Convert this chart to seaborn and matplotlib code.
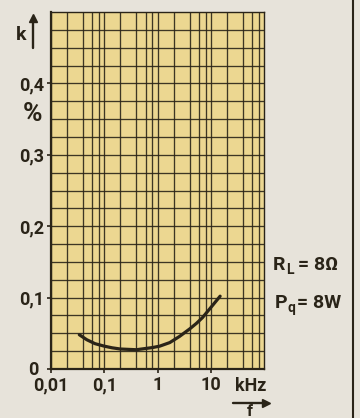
import matplotlib
matplotlib.use("Agg")
import matplotlib.pyplot as plt
from matplotlib.lines import Line2D
from matplotlib.ticker import FixedLocator, NullFormatter
from matplotlib.transforms import ScaledTranslation
import numpy as np
import pandas as pd
import seaborn as sns

# Distortion factor k (%) versus frequency f (kHz)
freq_khz = [0.034, 0.047, 0.067, 0.1, 0.14, 0.2, 0.4, 0.8, 1.1, 1.7, 2.6,
            4.0, 5.4, 7.0, 10.0, 15.0]
k_percent = [0.048, 0.041, 0.0355, 0.032, 0.0297, 0.028, 0.027, 0.030, 0.032,
             0.037, 0.0457, 0.056, 0.064, 0.072, 0.086, 0.102]

x_major = [0.01, 0.1, 1, 10]
x_labels = ["0,01", "0,1", "1", "10"]
y_major = [0, 0.1, 0.2, 0.3, 0.4]
y_labels = ["0", "0,1", "0,2", "0,3", "0,4"]

sns.set_theme(style="ticks")
plt.rcParams["font.family"] = ["Roboto", "DejaVu Sans"]
plt.rcParams["font.weight"] = "bold"

PAPER = "#e7e3da"
YELLOW = "#ecd791"
INK = "#2a2418"

W, H = 360, 418
fig = plt.figure(figsize=(W / 100, H / 100), dpi=100, facecolor=PAPER)
ax = fig.add_axes([51 / W, 1 - 369 / H, (264 - 51) / W, (369 - 12) / H])
ax.set_facecolor(YELLOW)

df = pd.DataFrame({"f": freq_khz, "k": k_percent})
sns.lineplot(data=df, x="f", y="k", ax=ax, color=INK, linewidth=2.3, zorder=5)

ax.set_xscale("log")
ax.set_xlim(0.01, 100)
ax.set_ylim(0, 0.5)

# graph-paper grid: 1-2-4-6-8 per decade, 0.025 % steps vertically
minor_x = [m * d for d in (0.01, 0.1, 1, 10) for m in (2, 4, 6, 8)]
ax.xaxis.set_major_locator(FixedLocator(x_major))
ax.xaxis.set_minor_locator(FixedLocator(minor_x))
ax.xaxis.set_minor_formatter(NullFormatter())
ax.set_xticklabels(x_labels)
ax.yaxis.set_major_locator(FixedLocator(y_major))
ax.yaxis.set_minor_locator(FixedLocator(list(np.arange(0.025, 0.5, 0.025))))
ax.set_yticklabels(y_labels)
ax.grid(which="both", color=INK, linewidth=0.95, alpha=0.9)
ax.tick_params(which="minor", length=0)
ax.tick_params(which="major", length=3, width=1.2, color=INK, labelcolor=INK,
               labelsize=13, pad=2)
for lab in ax.get_xticklabels() + ax.get_yticklabels():
    lab.set_fontweight("bold")
# the zero of the k axis sits a little further left, clear of "0,01"
zero_lab = ax.get_yticklabels()[0]
zero_lab.set_transform(zero_lab.get_transform()
                       + ScaledTranslation(-6 / 100, 1 / 100, fig.dpi_scale_trans))
for side in ("left", "bottom"):
    ax.spines[side].set_linewidth(1.6)
for side in ("top", "right"):
    ax.spines[side].set_linewidth(1.0)
for s in ax.spines.values():
    s.set_color(INK)
ax.set_xlabel("")
ax.set_ylabel("")

def fx(px):
    return px / W

def fy(py):
    return 1 - py / H

# axis name k with upward arrow, unit %
fig.text(fx(21), fy(35), "k", ha="center", va="center", color=INK,
         fontweight="bold", fontsize=14)
fig.add_artist(Line2D([fx(33), fx(33)], [fy(48), fy(22)], color=INK, lw=1.7))
fig.add_artist(Line2D([fx(33)], [fy(18)], marker="^", markersize=6, color=INK))
fig.text(fx(32), fy(114), "%", ha="center", va="center", color=INK,
         fontweight="bold", fontsize=19)

# frequency unit and arrow
fig.text(fx(251), fy(386), "kHz", ha="center", va="center", color=INK,
         fontweight="bold", fontsize=13)
fig.add_artist(Line2D([fx(233), fx(263)], [fy(403), fy(403)], color=INK, lw=1.7))
fig.add_artist(Line2D([fx(266)], [fy(403)], marker=">", markersize=6, color=INK))
fig.text(fx(250), fy(411), "f", ha="center", va="center", color=INK,
         fontweight="bold", fontsize=12)

# operating conditions
big = dict(color=INK, fontweight="bold", fontsize=14)
sub = dict(color=INK, fontweight="bold", fontsize=10)
fig.text(fx(273), fy(265), "R", ha="left", va="center", **big)
fig.text(fx(286), fy(270), "L", ha="left", va="center", **sub)
fig.text(fx(298), fy(265), "= 8\u03a9", ha="left", va="center", **big)
fig.text(fx(275), fy(303), "P", ha="left", va="center", **big)
fig.text(fx(287), fy(308), "q", ha="left", va="center", **sub)
fig.text(fx(297), fy(303), "= 8W", ha="left", va="center", **big)

# column rule on the right
fig.add_artist(Line2D([fx(353), fx(353)], [0, 1], color=INK, lw=1.5))

fig.savefig("out.png", dpi=100, facecolor=PAPER)
